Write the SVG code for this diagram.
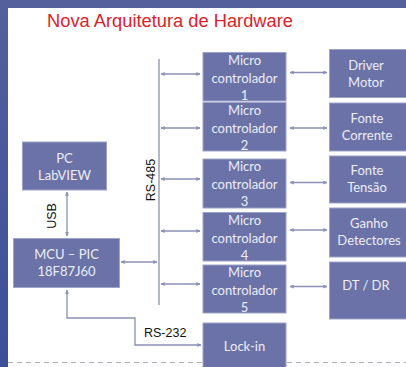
<svg xmlns="http://www.w3.org/2000/svg" width="406" height="367" viewBox="0 0 406 367">
<defs>
<linearGradient id="bg" x1="0" y1="0" x2="0" y2="1">
<stop offset="0" stop-color="#53609b"/>
<stop offset="1" stop-color="#3c4f99"/>
</linearGradient>
<marker id="ah" viewBox="0 0 6 6" refX="5.5" refY="3" markerWidth="4" markerHeight="4" orient="auto-start-reverse" markerUnits="userSpaceOnUse">
<path d="M0,0 L6,3 L0,6 z" fill="#8a90b6"/>
</marker>
<style>
.box{fill:#6a72a7;stroke:#9da3c9;stroke-width:1}
.t{font-family:Lato,"Open Sans","DejaVu Sans",sans-serif;font-size:13px;fill:#eceef7;text-anchor:middle}
.ln{stroke:#8a90b6;stroke-width:1.3;fill:none}
.ar{marker-start:url(#ah);marker-end:url(#ah)}
.lbl{font-family:"Liberation Sans",Arial,sans-serif;font-size:12.5px;fill:#111}
</style>
</defs>
<rect x="0" y="0" width="406" height="367" fill="url(#bg)"/>
<rect x="8" y="8" width="398" height="359" fill="#ffffff"/>
<line x1="8" y1="362.5" x2="406" y2="362.5" stroke="#a9adb8" stroke-width="1" stroke-dasharray="5,4"/>
<text x="47" y="27" font-family="'Liberation Sans',Arial,sans-serif" font-size="17.5" textLength="246" lengthAdjust="spacingAndGlyphs" fill="#d8232c">Nova Arquitetura de Hardware</text>

<g id="connectors">
<line class="ln" x1="159" y1="59" x2="159" y2="305"/>
<line class="ln ar" x1="161" y1="74" x2="200" y2="74"/>
<line class="ln ar" x1="161" y1="128" x2="200" y2="128"/>
<line class="ln ar" x1="161" y1="179" x2="200" y2="179"/>
<line class="ln ar" x1="161" y1="231" x2="200" y2="231"/>
<line class="ln ar" x1="161" y1="284" x2="200" y2="284"/>
<line class="ln ar" x1="290" y1="72.5" x2="327" y2="72.5"/>
<line class="ln ar" x1="290" y1="128" x2="327" y2="128"/>
<line class="ln ar" x1="290" y1="182.5" x2="327" y2="182.5"/>
<line class="ln ar" x1="290" y1="230" x2="327" y2="230"/>
<line class="ln ar" x1="290" y1="286.5" x2="327" y2="286.5"/>
<line class="ln ar" x1="121" y1="262" x2="157" y2="262"/>
<line class="ln ar" x1="67" y1="192" x2="67" y2="236"/>
<path class="ln ar" d="M67,290 V318 H135 V345 H201"/>
<text class="lbl" transform="translate(155,180) rotate(-90)" text-anchor="middle">RS-485</text>
<text class="lbl" transform="translate(56,216) rotate(-90)" text-anchor="middle">USB</text>
<text class="lbl" x="144" y="337">RS-232</text>
</g>

<g id="pc"><rect class="box" x="22.5" y="142" width="84" height="48"/>
<text class="t" x="64.5" y="162.5">PC</text><text class="t" x="64.5" y="179.5">LabVIEW</text></g>
<g id="mcu"><rect class="box" x="13.5" y="238.5" width="106" height="49"/>
<text class="t" x="66.5" y="258.5">MCU – PIC</text><text class="t" x="66.5" y="276">18F87J60</text></g>

<g id="mc1"><rect class="box" x="203" y="52.5" width="83" height="48.5"/>
<text class="t" x="244.5" y="64.5">Micro</text><text class="t" x="244.5" y="82.5">controlador</text><text class="t" x="244.5" y="99.5">1</text></g>
<g id="mc2"><rect class="box" x="203" y="102.5" width="83" height="48.5"/>
<text class="t" x="244.5" y="114.5">Micro</text><text class="t" x="244.5" y="132.5">controlador</text><text class="t" x="244.5" y="149.5">2</text></g>
<g id="mc3"><rect class="box" x="203" y="159" width="83" height="49"/>
<text class="t" x="244.5" y="171">Micro</text><text class="t" x="244.5" y="189">controlador</text><text class="t" x="244.5" y="206">3</text></g>
<g id="mc4"><rect class="box" x="203" y="212.5" width="83" height="48.5"/>
<text class="t" x="244.5" y="224.5">Micro</text><text class="t" x="244.5" y="242.5">controlador</text><text class="t" x="244.5" y="259.5">4</text></g>
<g id="mc5"><rect class="box" x="203" y="265" width="83" height="48"/>
<text class="t" x="244.5" y="277">Micro</text><text class="t" x="244.5" y="295">controlador</text><text class="t" x="244.5" y="312">5</text></g>
<g id="lockin"><rect class="box" x="203" y="323" width="83" height="50"/>
<text class="t" x="244.5" y="351">Lock-in</text></g>

<g id="driver"><rect class="box" x="329.5" y="49.5" width="80" height="48"/>
<text class="t" x="366" y="69.5">Driver</text><text class="t" x="366" y="86.5">Motor</text></g>
<g id="fontec"><rect class="box" x="329.5" y="103" width="80" height="48"/>
<text class="t" x="367" y="123">Fonte</text><text class="t" x="367" y="140">Corrente</text></g>
<g id="fontet"><rect class="box" x="329.5" y="156" width="80" height="47"/>
<text class="t" x="367" y="175">Fonte</text><text class="t" x="367" y="192">Tensão</text></g>
<g id="ganho"><rect class="box" x="329.5" y="208" width="80" height="49"/>
<text class="t" x="369" y="228">Ganho</text><text class="t" x="369" y="245">Detectores</text></g>
<g id="dtdr"><rect class="box" x="329.5" y="262" width="80" height="57"/>
<text class="t" x="366" y="290">DT / DR</text></g>
</svg>
